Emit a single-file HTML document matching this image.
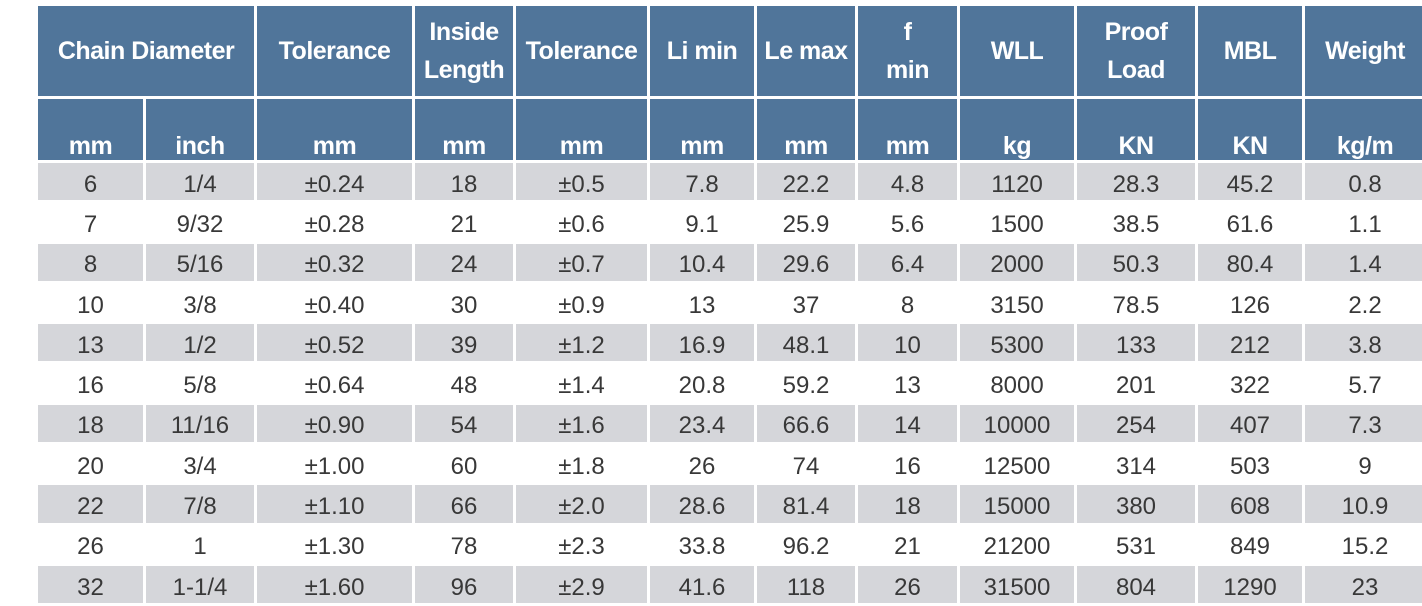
<!DOCTYPE html>
<html><head><meta charset="utf-8"><style>
html,body{margin:0;padding:0;background:#fff;width:1422px;height:606px;overflow:hidden}
table{position:absolute;left:35px;top:3px;width:1393px;border-collapse:separate;border-spacing:3px;table-layout:fixed;font-family:"Liberation Sans","DejaVu Sans",sans-serif}
td,th{padding:0;text-align:center;overflow:hidden;white-space:nowrap}
th{background:#50759a;color:#fff;font-weight:bold;font-size:25px;letter-spacing:-0.5px}
tr.h1 th{height:90px;line-height:38px;white-space:normal}
tr.h2 th{height:61px;vertical-align:bottom;line-height:28px}
td{height:37.3px;font-size:24px;color:#383838;line-height:26px;padding-top:6px;box-sizing:border-box}
tr.g td{background:#d5d6da}
</style></head><body>
<table>
<colgroup><col style="width:105px"><col style="width:108px"><col style="width:155px"><col style="width:98px"><col style="width:131px"><col style="width:104px"><col style="width:98px"><col style="width:99px"><col style="width:114px"><col style="width:118px"><col style="width:104px"><col style="width:120px"></colgroup>
<tr class="h1"><th colspan="2">Chain Diameter</th><th>Tolerance</th><th>Inside Length</th><th>Tolerance</th><th>Li&nbsp;min</th><th>Le max</th><th>f<br>min</th><th>WLL</th><th>Proof Load</th><th>MBL</th><th>Weight</th></tr>
<tr class="h2"><th>mm</th><th>inch</th><th>mm</th><th>mm</th><th>mm</th><th>mm</th><th>mm</th><th>mm</th><th>kg</th><th>KN</th><th>KN</th><th>kg/m</th></tr>
<tr class="g"><td>6</td><td>1/4</td><td>±0.24</td><td>18</td><td>±0.5</td><td>7.8</td><td>22.2</td><td>4.8</td><td>1120</td><td>28.3</td><td>45.2</td><td>0.8</td></tr>
<tr><td>7</td><td>9/32</td><td>±0.28</td><td>21</td><td>±0.6</td><td>9.1</td><td>25.9</td><td>5.6</td><td>1500</td><td>38.5</td><td>61.6</td><td>1.1</td></tr>
<tr class="g"><td>8</td><td>5/16</td><td>±0.32</td><td>24</td><td>±0.7</td><td>10.4</td><td>29.6</td><td>6.4</td><td>2000</td><td>50.3</td><td>80.4</td><td>1.4</td></tr>
<tr><td>10</td><td>3/8</td><td>±0.40</td><td>30</td><td>±0.9</td><td>13</td><td>37</td><td>8</td><td>3150</td><td>78.5</td><td>126</td><td>2.2</td></tr>
<tr class="g"><td>13</td><td>1/2</td><td>±0.52</td><td>39</td><td>±1.2</td><td>16.9</td><td>48.1</td><td>10</td><td>5300</td><td>133</td><td>212</td><td>3.8</td></tr>
<tr><td>16</td><td>5/8</td><td>±0.64</td><td>48</td><td>±1.4</td><td>20.8</td><td>59.2</td><td>13</td><td>8000</td><td>201</td><td>322</td><td>5.7</td></tr>
<tr class="g"><td>18</td><td>11/16</td><td>±0.90</td><td>54</td><td>±1.6</td><td>23.4</td><td>66.6</td><td>14</td><td>10000</td><td>254</td><td>407</td><td>7.3</td></tr>
<tr><td>20</td><td>3/4</td><td>±1.00</td><td>60</td><td>±1.8</td><td>26</td><td>74</td><td>16</td><td>12500</td><td>314</td><td>503</td><td>9</td></tr>
<tr class="g"><td>22</td><td>7/8</td><td>±1.10</td><td>66</td><td>±2.0</td><td>28.6</td><td>81.4</td><td>18</td><td>15000</td><td>380</td><td>608</td><td>10.9</td></tr>
<tr><td>26</td><td>1</td><td>±1.30</td><td>78</td><td>±2.3</td><td>33.8</td><td>96.2</td><td>21</td><td>21200</td><td>531</td><td>849</td><td>15.2</td></tr>
<tr class="g"><td>32</td><td>1-1/4</td><td>±1.60</td><td>96</td><td>±2.9</td><td>41.6</td><td>118</td><td>26</td><td>31500</td><td>804</td><td>1290</td><td>23</td></tr>
</table>
</body></html>
